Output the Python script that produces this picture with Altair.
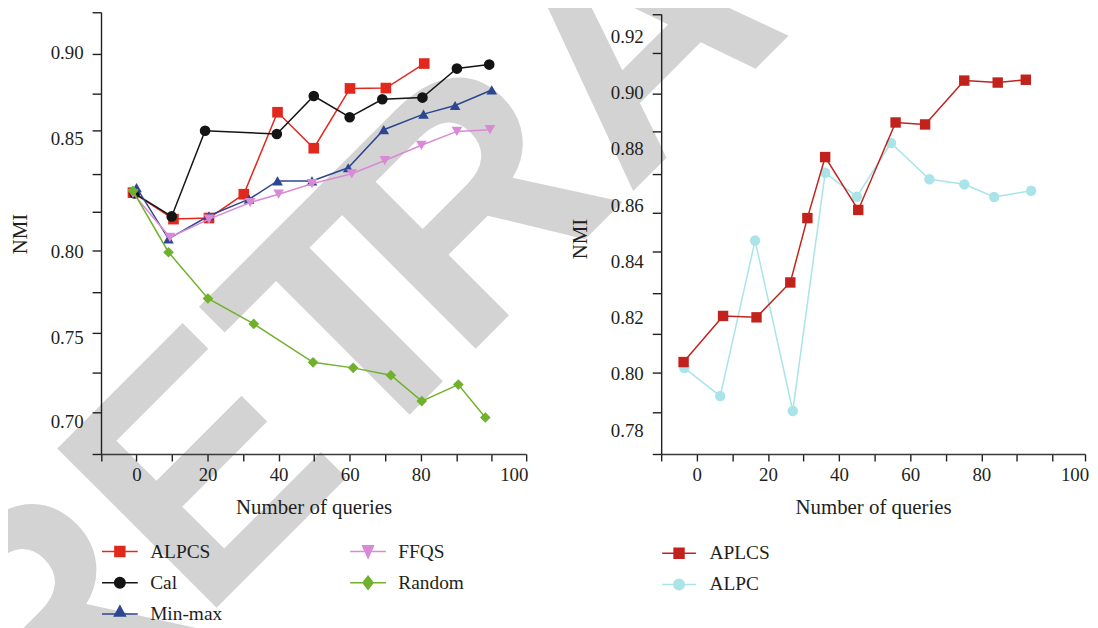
import json
import pandas as pd
import altair as alt

# ---------------- data ----------------
left_names = ["ALPCS", "Cal", "Min-max", "FFQS", "Random"]
alpcs_x = [-1.0, 10.4, 20.4, 30.2, 39.7, 49.9, 60.1, 70.2, 81.0]
alpcs_y = [0.8261, 0.8143, 0.8148, 0.8254, 0.8655, 0.8459, 0.8793, 0.8795, 0.8937]
cal_x = [-0.5, 9.9, 19.3, 39.5, 49.9, 60.0, 69.2, 80.5, 90.2, 99.3]
cal_y = [0.8257, 0.8155, 0.8548, 0.8529, 0.8749, 0.8626, 0.8730, 0.8740, 0.8908, 0.8931]
minmax_x = [0.0, 9.0, 20.4, 31.7, 39.7, 49.4, 59.6, 69.6, 80.8, 89.7, 100.0]
minmax_y = [0.8283, 0.8055, 0.8158, 0.8232, 0.8313, 0.8313, 0.8372, 0.8554, 0.8644, 0.8694, 0.8784]
ffqs_x = [-1.0, 9.4, 20.4, 32.0, 40.0, 49.4, 60.6, 69.9, 80.2, 90.2, 99.5]
ffqs_y = [0.8257, 0.8062, 0.8143, 0.8217, 0.8254, 0.8301, 0.8345, 0.8404, 0.8472, 0.8544, 0.8554]
random_x = [-1.0, 9.0, 20.1, 33.0, 49.7, 61.0, 71.6, 80.3, 90.6, 98.2]
random_y = [0.8269, 0.7994, 0.7725, 0.7577, 0.7351, 0.7318, 0.7274, 0.7121, 0.7219, 0.7024]

right_names = ["ALPC", "APLCS"]
alpc_x = [-3.5, 6.6, 16.4, 27.0, 36.1, 45.0, 54.6, 65.4, 75.2, 83.6, 94.0]
alpc_y = [0.8021, 0.7921, 0.8474, 0.7868, 0.8715, 0.8630, 0.8821, 0.8692, 0.8674, 0.8629, 0.8651]
aplcs_x = [-3.7, 7.4, 16.8, 26.3, 31.1, 36.1, 45.4, 55.9, 64.2, 75.2, 84.6, 92.5]
aplcs_y = [0.8042, 0.8206, 0.8201, 0.8325, 0.8554, 0.8771, 0.8583, 0.8894, 0.8887, 0.9043, 0.9036, 0.9046]

# axis ticks / labels
x_ticks_left = [-10, 0, 10, 20, 30, 40, 50, 60, 70, 80, 90, 100, 109.7]
x_ticks_right = [-10, 0, 10, 20, 30, 40, 50, 60, 70, 80, 90, 100, 109.15]
x_labels = [0, 20, 40, 60, 80, 100]
left_y_ticks = [0.9234, 0.8994, 0.8764, 0.8548, 0.8342, 0.8176, 0.8003, 0.7760, 0.7523, 0.7288, 0.7053, 0.6803]
left_y_labels = [0.90, 0.85, 0.80, 0.75, 0.70]
right_y_ticks = [0.928, 0.9141, 0.8997, 0.8862, 0.8712, 0.8574, 0.8435, 0.8287, 0.8142, 0.8005, 0.7864, 0.7715]
right_y_labels = [0.78, 0.80, 0.82, 0.84, 0.86, 0.88, 0.90, 0.92]

watermark_parts = ["RET", "RACTED"]

# ---------------- styles ----------------
INK = "#231f20"
SERIF = "Liberation Serif"
left_colors = ["#e2281d", "#141414", "#2d4690", "#d98ad6", "#6fb12c"]
left_shapes = ["square", "circle", "triangle-up", "triangle-down", "diamond"]
right_colors = ["#a9e4e8", "#c1221c"]
right_shapes = ["circle", "square"]


def frame(names, xs_list, ys_list):
    rows = []
    for n, xs, ys in zip(names, xs_list, ys_list):
        for x, y in zip(xs, ys):
            rows.append({"series": n, "queries": x, "nmi": y})
    return pd.DataFrame(rows)


def in_list(vals):
    return f"indexof({json.dumps(vals)}, datum.value) >= 0"


def legend_path(kind, r):
    f = lambda v: f"{v / r:.3f}"
    base = "M-1,0H1"
    if kind == "square":
        a = 5.0
        m = f"M{f(-a)},{f(-a)}H{f(a)}V{f(a)}H{f(-a)}Z"
    elif kind == "circle":
        a = 5.3
        m = f"M{f(-a)},0A{f(a)},{f(a)},0,1,0,{f(a)},0A{f(a)},{f(a)},0,1,0,{f(-a)},0Z"
    elif kind == "triangle-up":
        m = f"M0,{f(-8)}L{f(5.5)},{f(2)}L{f(-5.5)},{f(2)}Z"
    elif kind == "triangle-down":
        m = f"M{f(-5.5)},{f(-6)}L{f(5.5)},{f(-6)}L0,{f(6.5)}Z"
    else:
        m = f"M{f(-5)},0L0,{f(-6.5)}L{f(5)},0L0,{f(6.5)}Z"
    return base + m


def y_axis(ticks, labels, offset, title_x, title_y):
    return alt.Axis(
        orient="left", offset=offset, values=ticks + labels,
        labelExpr=f"{in_list(labels)} ? format(datum.value, '.2f') : ''",
        tickOpacity={"condition": {"test": in_list(ticks), "value": 1}, "value": 0},
        tickSize=9, tickWidth=1.4, tickColor=INK, domainColor=INK, domainWidth=1.4,
        labelFont=SERIF, labelFontSize=19, labelColor=INK, labelPadding=9,
        labelOverlap=False, labelFlush=False,
        title="NMI", titleFont=SERIF, titleFontSize=21, titleFontWeight="normal",
        titleColor=INK, titleAngle=270, titleBaseline="alphabetic", titleAlign="center",
        titleX=title_x, titleY=title_y, grid=False, zindex=1,
    )


def x_axis(ticks):
    return alt.Axis(
        orient="bottom", offset=-173, values=ticks,
        labelExpr=f"{in_list(x_labels)} ? format(datum.value, 'd') : ''",
        labelAlign={"condition": {"test": "datum.value == 100", "value": "left"}, "value": "center"},
        labelOffset={"condition": {"test": "datum.value == 100", "value": 8}, "value": 0},
        tickSize=7, tickWidth=1.4, tickColor=INK, domainColor="#3a3a3a", domainWidth=1.6,
        labelFont=SERIF, labelFontSize=19, labelColor=INK, labelPadding=5,
        labelOverlap=False, labelFlush=False,
        title="Number of queries", titleFont=SERIF, titleFontSize=21, titleFontWeight="normal",
        titleColor=INK, titleBaseline="alphabetic", titleY=59.5, grid=False, zindex=1,
    )


def legend_layer(order, colors, kinds, lx, ly, columns, sym_px, col_pad, label_offset):
    r = sym_px / 2
    paths = [legend_path(k, r) for k in kinds]
    leg = alt.Legend(
        orient="none", legendX=lx, legendY=ly, title=None, columns=columns,
        columnPadding=col_pad, rowPadding=11.4, symbolSize=sym_px * sym_px,
        symbolStrokeWidth=1.5, clipHeight=20, symbolOffset=0,
        labelFont=SERIF, labelFontSize=19.5, labelFontWeight="normal", labelColor=INK,
        labelOffset=label_offset, labelLimit=0, padding=0, zindex=1,
    )
    df = pd.DataFrame({"series": order})
    return alt.Chart(df).mark_point(filled=True, opacity=1, strokeWidth=1.5).encode(
        x=alt.value(-400), y=alt.value(-400),
        fill=alt.Fill("series:N", scale=alt.Scale(domain=order, range=colors), legend=leg),
        stroke=alt.Stroke("series:N", scale=alt.Scale(domain=order, range=colors), legend=leg),
        shape=alt.Shape("series:N", scale=alt.Scale(domain=order, range=paths), legend=leg),
    )


def panel(df, names, colors, shapes, xscale, yscale, xaxis, yaxis, leg_layer, size):
    x = alt.X("queries:Q", scale=xscale, axis=xaxis)
    y = alt.Y("nmi:Q", scale=yscale, axis=yaxis)
    layers = []
    for n, c, s in zip(names, colors, shapes):
        sub = df[df["series"] == n]
        line = alt.Chart(sub).mark_line(strokeWidth=1.5, color=c).encode(x=x, y=y)
        pts = alt.Chart(sub).mark_point(filled=True, opacity=1, size=size, shape=s, color=c).encode(x=x, y=y)
        layers += [line, pts]
    return alt.layer(*layers, leg_layer)


left_df = frame(left_names, [alpcs_x, cal_x, minmax_x, ffqs_x, random_x],
                [alpcs_y, cal_y, minmax_y, ffqs_y, random_y])
right_df = frame(right_names, [alpc_x, aplcs_x], [alpc_y, aplcs_y])

left_x_scale = alt.Scale(domain=[-10, 109.7], range=[93.7, 522], nice=False, zero=False)
left_y_scale = alt.Scale(domain=[0.6803, 0.70, 0.75, 0.80, 0.85, 0.90, 0.9234],
                         range=[447, 414.3, 329.3, 242.7, 129.7, 42.7, 2], nice=False, zero=False)
right_x_scale = alt.Scale(domain=[-10, 109.15], range=[658, 1085], nice=False, zero=False)
right_y_scale = alt.Scale(domain=[0.7715, 0.928], range=[447, 3.7], nice=False, zero=False)

left_leg_order = ["ALPCS", "Cal", "Min-max", "FFQS", "Random"]
left_leg_colors = [left_colors[left_names.index(n)] for n in left_leg_order]
left_leg_kinds = [left_shapes[left_names.index(n)] for n in left_leg_order]
right_leg_order = ["APLCS", "ALPC"]
right_leg_colors = [right_colors[right_names.index(n)] for n in right_leg_order]
right_leg_kinds = [right_shapes[right_names.index(n)] for n in right_leg_order]

left = panel(
    left_df, left_names, left_colors, left_shapes, left_x_scale, left_y_scale,
    x_axis(x_ticks_left), y_axis(left_y_ticks, left_y_labels, -93.7, -74.7, 225),
    legend_layer(left_leg_order, left_leg_colors, left_leg_kinds, 93.7, 535.3, 2, 36, 127, 11.5),
    115,
)
right = panel(
    right_df, right_names, right_colors, right_shapes, right_x_scale, right_y_scale,
    x_axis(x_ticks_right), y_axis(right_y_ticks, right_y_labels, -658, -75, 230),
    legend_layer(right_leg_order, right_leg_colors, right_leg_kinds, 658, 537, 1, 34, 10, 12.7),
    110,
)

# watermark, drawn behind everything (two pieces so the letter spacing matches)
wm_style = dict(font="Liberation Sans", fontWeight="bold", fontSize=330, angle=315,
                align="left", baseline="alphabetic", color="#d3d3d3")
wm1 = alt.Chart(pd.DataFrame({"text": [watermark_parts[0]]})).mark_text(**wm_style).encode(
    text="text:N", x=alt.value(26), y=alt.value(786))
wm2 = alt.Chart(pd.DataFrame({"text": [watermark_parts[1]]})).mark_text(**wm_style).encode(
    text="text:N", x=alt.value(455.5), y=alt.value(356.5))

chart = (
    alt.layer(wm1, wm2, left, right)
    .resolve_scale(x="independent", y="independent",
                   fill="independent", stroke="independent", shape="independent")
    .resolve_legend(fill="independent", stroke="independent", shape="independent")
    .properties(width=1090, height=620, padding=0,
                autosize=alt.AutoSizeParams(type="none"), background="white")
    .configure(font=SERIF)
    .configure_view(stroke=None)
    .configure_axis(labelFont=SERIF, titleFont=SERIF)
    .configure_legend(labelFont=SERIF)
)

chart.save("out.html", embed_options={"renderer": "svg", "actions": False})
